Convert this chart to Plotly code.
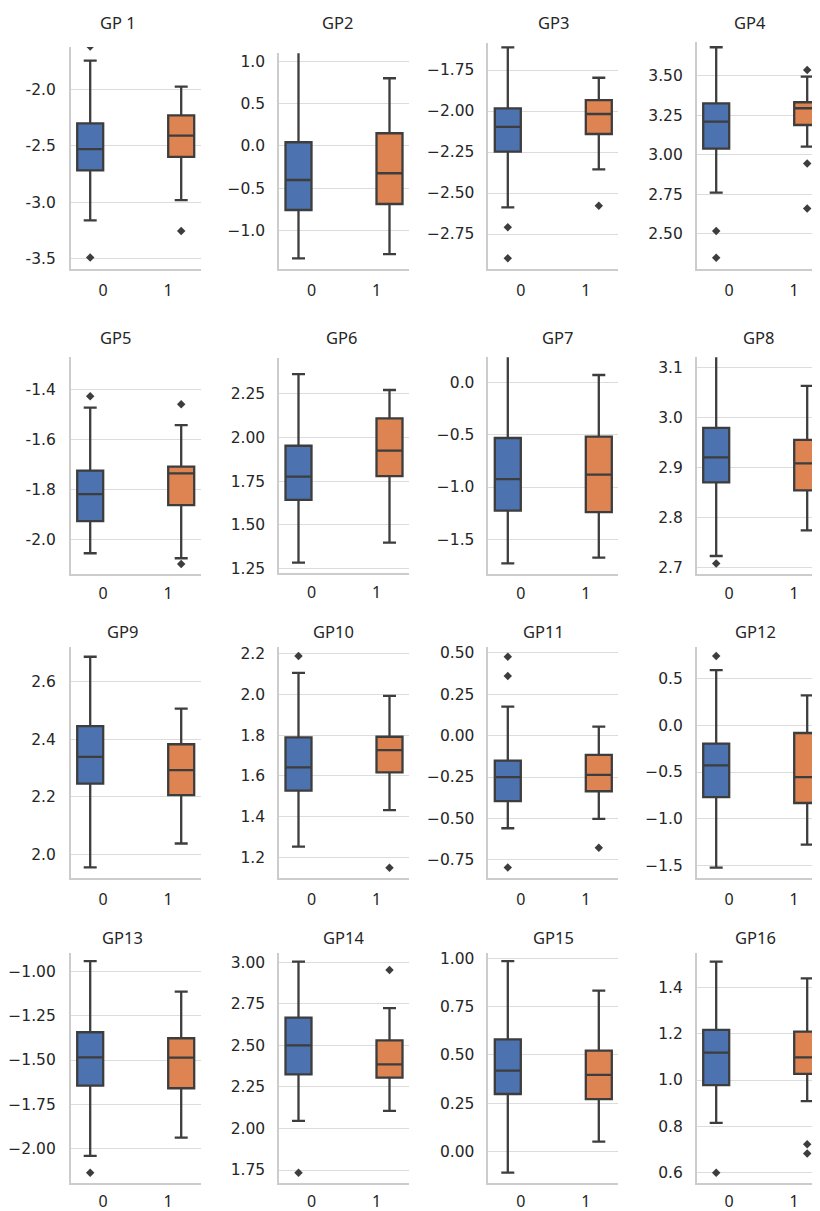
import plotly.graph_objects as go

# ---------------- data ----------------
titles = ["GP 1", "GP2", "GP3", "GP4", "GP5", "GP6", "GP7", "GP8",
          "GP9", "GP10", "GP11", "GP12", "GP13", "GP14", "GP15", "GP16"]

# group 0 (blue) box statistics
lo0 = [-3.162, -1.334, -2.587, 2.760, -2.056, 1.285, -1.729, 2.724,
       1.955, 1.254, -0.559, -1.525, -2.043, 2.046, -0.109, 0.815]
q1_0 = [-2.719, -0.760, -2.248, 3.038, -1.927, 1.643, -1.226, 2.871,
        2.246, 1.528, -0.396, -0.768, -1.645, 2.325, 0.298, 0.978]
med0 = [-2.530, -0.404, -2.096, 3.209, -1.819, 1.776, -0.924, 2.921,
        2.339, 1.642, -0.251, -0.429, -1.485, 2.500, 0.419, 1.118]
q3_0 = [-2.302, 0.044, -1.984, 3.325, -1.725, 1.952, -0.532, 2.980,
        2.446, 1.789, -0.151, -0.196, -1.343, 2.667, 0.581, 1.216]
hi0 = [-1.746, 1.200, -1.612, 3.680, -1.473, 2.361, 0.300, 3.150,
       2.687, 2.105, 0.175, 0.593, -0.940, 3.004, 0.986, 1.511]
out0 = [[-1.620, -3.490], [], [-2.709, -2.898], [2.517, 2.348],
        [-1.427], [], [], [2.709],
        [], [2.187], [0.476, 0.359, -0.796], [0.743],
        [-2.138], [1.734], [], [0.600]]

# group 1 (orange) box statistics
lo1 = [-2.982, -1.283, -2.356, 3.051, -2.076, 1.399, -1.675, 2.775,
       2.038, 1.433, -0.503, -1.279, -1.940, 2.106, 0.052, 0.909]
q1_1 = [-2.598, -0.689, -2.140, 3.188, -1.863, 1.779, -1.239, 2.855,
        2.206, 1.618, -0.336, -0.832, -1.660, 2.306, 0.272, 1.026]
med1 = [-2.410, -0.324, -2.018, 3.294, -1.736, 1.924, -0.882, 2.909,
        2.293, 1.727, -0.237, -0.554, -1.487, 2.386, 0.397, 1.098]
q3_1 = [-2.231, 0.151, -1.933, 3.332, -1.709, 2.108, -0.519, 2.956,
        2.383, 1.792, -0.117, -0.082, -1.377, 2.530, 0.522, 1.209]
hi1 = [-1.977, 0.804, -1.797, 3.494, -1.543, 2.270, 0.070, 3.064,
       2.507, 1.992, 0.054, 0.321, -1.113, 2.724, 0.833, 1.439]
out1 = [[-3.255], [], [-2.577], [3.536, 2.945, 2.660],
        [-1.459, -2.099], [], [], [],
        [], [1.151], [-0.677], [],
        [], [2.954], [], [0.723, 0.683]]

x_labels = ["0", "1"]
y_tickvals = [
    [-3.5, -3.0, -2.5, -2.0], [-1.0, -0.5, 0.0, 0.5, 1.0],
    [-2.75, -2.5, -2.25, -2.0, -1.75], [2.5, 2.75, 3.0, 3.25, 3.5],
    [-2.0, -1.8, -1.6, -1.4], [1.25, 1.5, 1.75, 2.0, 2.25],
    [-1.5, -1.0, -0.5, 0.0], [2.7, 2.8, 2.9, 3.0, 3.1],
    [2.0, 2.2, 2.4, 2.6], [1.2, 1.4, 1.6, 1.8, 2.0, 2.2],
    [-0.75, -0.5, -0.25, 0.0, 0.25, 0.5], [-1.5, -1.0, -0.5, 0.0, 0.5],
    [-2.0, -1.75, -1.5, -1.25, -1.0], [1.75, 2.0, 2.25, 2.5, 2.75, 3.0],
    [0.0, 0.25, 0.5, 0.75, 1.0], [0.6, 0.8, 1.0, 1.2, 1.4],
]
y_ticktext = [
    ["-3.5", "-3.0", "-2.5", "-2.0"], ["\u22121.0", "\u22120.5", "0.0", "0.5", "1.0"],
    ["\u22122.75", "\u22122.50", "\u22122.25", "\u22122.00", "\u22121.75"], ["2.50", "2.75", "3.00", "3.25", "3.50"],
    ["-2.0", "-1.8", "-1.6", "-1.4"], ["1.25", "1.50", "1.75", "2.00", "2.25"],
    ["\u22121.5", "\u22121.0", "\u22120.5", "0.0"], ["2.7", "2.8", "2.9", "3.0", "3.1"],
    ["2.0", "2.2", "2.4", "2.6"], ["1.2", "1.4", "1.6", "1.8", "2.0", "2.2"],
    ["\u22120.75", "\u22120.50", "\u22120.25", "0.00", "0.25", "0.50"], ["\u22121.5", "\u22121.0", "\u22120.5", "0.0", "0.5"],
    ["\u22122.00", "\u22121.75", "\u22121.50", "\u22121.25", "\u22121.00"], ["1.75", "2.00", "2.25", "2.50", "2.75", "3.00"],
    ["0.00", "0.25", "0.50", "0.75", "1.00"], ["0.6", "0.8", "1.0", "1.2", "1.4"],
]

# ---------------- layout config (page pixel coordinates) ----------------
PAGE_W, PAGE_H = 820, 1211
OFF = 8                      # default body margin of the html page
W, H = PAGE_W - OFF, PAGE_H - OFF
y_ranges = [
    [-3.595, -1.625], [-1.464, 1.100], [-2.965, -1.587], [2.275, 3.715],
    [-2.139, -1.269], [1.224, 2.451], [-1.831, 0.239], [2.688, 3.121],
    [1.917, 2.722], [1.099, 2.233], [-0.861, 0.536], [-1.639, 0.843],
    [-2.198, -0.896], [1.670, 3.054], [-0.164, 1.026], [0.554, 1.547],
]
col_left = [70.7, 279.0, 488.3, 696.7]
panel_top = [47.0, 53.3, 43.3, 41.7,
             356.7, 358.3, 357.3, 357.3,
             646.7, 646.7, 646.7, 646.7,
             953.3, 953.3, 953.3, 953.3]
panel_bottom = [269.3] * 4 + [574.0, 573.3, 574.0, 574.0] + [878.3] * 4 + [1183.3] * 4
title_x = [118, 337, 553, 750, 115, 341, 557, 758, 122, 333, 543, 755, 122, 343, 553, 755]
title_y = [22.5] * 4 + [337.5] * 4 + [631] * 4 + [937.5] * 4
x_standoff = [6, 4, 6, 3]   # per row
y_standoff = [10, 9, 9, 9]  # per column


def fx(px):
    return (px - OFF) / W


def fy(py):
    return 1 - (py - OFF) / H


BLUE = "#4c72b0"
ORANGE = "#dd8452"
LINE = "#3d3d3d"
GRID = "#dcdcdc"
SPINE = "#cccccc"
TXT = "#262626"
UNIT = 65.0  # pixels per x unit

fig = go.Figure()
layout = dict(
    width=W, height=H, margin=dict(l=0, r=0, t=0, b=0, autoexpand=False),
    paper_bgcolor="white", plot_bgcolor="white", showlegend=False,
    font=dict(family="Noto Sans", size=16, color=TXT),
    annotations=[],
)

for i in range(16):
    r, c = divmod(i, 4)
    n = "" if i == 0 else str(i + 1)
    xa, ya = "x" + n, "y" + n
    x0 = col_left[c]
    x1 = min(x0 + 2 * UNIT, PAGE_W)
    xr = [-0.5, -0.5 + (x1 - x0) / UNIT]

    for pos, lo, q1, md, q3, hi, col in [
        (-0.2, lo0[i], q1_0[i], med0[i], q3_0[i], hi0[i], BLUE),
        (1.2, lo1[i], q1_1[i], med1[i], q3_1[i], hi1[i], ORANGE),
    ]:
        fig.add_trace(go.Box(
            x=[pos], q1=[q1], median=[md], q3=[q3], lowerfence=[lo], upperfence=[hi],
            width=0.4, whiskerwidth=0.5, fillcolor=col,
            line=dict(color=LINE, width=2.3), boxpoints=False,
            xaxis=xa, yaxis=ya, hoverinfo="skip",
        ))
    ox = [-0.2] * len(out0[i]) + [1.2] * len(out1[i])
    oy = out0[i] + out1[i]
    if oy:
        fig.add_trace(go.Scatter(
            x=ox, y=oy, mode="markers", cliponaxis=True,
            marker=dict(symbol="diamond", size=6.5, color=LINE),
            xaxis=xa, yaxis=ya, hoverinfo="skip",
        ))

    layout["xaxis" + n] = dict(
        domain=[fx(x0), fx(x1)], range=xr, anchor=ya, automargin=False,
        tickvals=[0, 1], ticktext=x_labels, ticks="",
        showgrid=False, zeroline=False, showline=True, linecolor=SPINE, linewidth=1.5,
        ticklabelstandoff=x_standoff[r], tickfont=dict(family="Noto Sans", size=16, color=TXT),
        fixedrange=True,
    )
    layout["yaxis" + n] = dict(
        domain=[fy(panel_bottom[i]), fy(panel_top[i])], range=y_ranges[i], anchor=xa,
        automargin=False,
        tickvals=y_tickvals[i], ticktext=y_ticktext[i], ticks="",
        showgrid=True, gridcolor=GRID, gridwidth=1.2,
        zeroline=False, showline=True, linecolor=SPINE, linewidth=1.5,
        ticklabelstandoff=y_standoff[c], tickfont=dict(family="DejaVu Sans", size=15.5, color=TXT),
        fixedrange=True,
    )
    layout["annotations"].append(dict(
        text=titles[i], x=fx(title_x[i]), y=fy(title_y[i]), xref="paper", yref="paper",
        xanchor="center", yanchor="middle", showarrow=False,
        font=dict(family="Noto Sans", size=16.5, color=TXT),
    ))

fig.update_layout(**layout)
fig.write_html("out.html")
